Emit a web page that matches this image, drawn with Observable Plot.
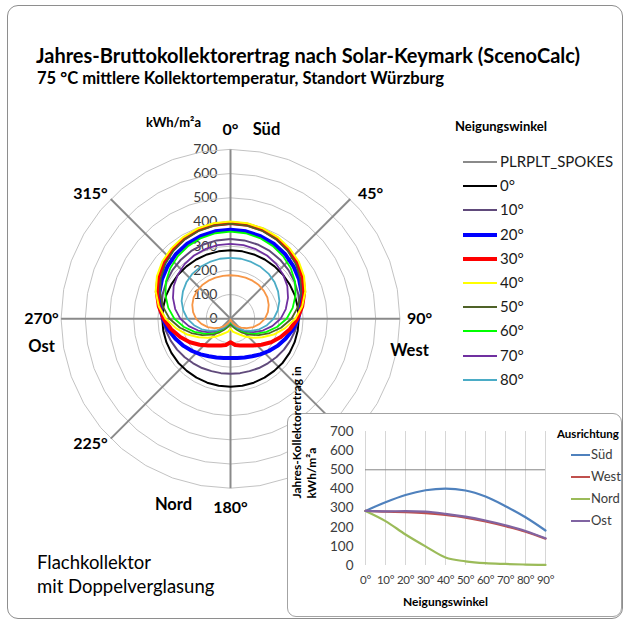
<!DOCTYPE html>
<html>
<head>
<meta charset="utf-8">
<script src="https://cdn.jsdelivr.net/npm/d3@7"></script>
<script src="https://cdn.jsdelivr.net/npm/@observablehq/plot@0.6"></script>
<style>
html, body { margin: 0; padding: 0; background: #fff; }
body { width: 629px; height: 627px; position: relative; overflow: hidden; font-family: Lato, "Open Sans", sans-serif; color: #000; }
.abs { position: absolute; white-space: nowrap; line-height: 1; }
</style>
</head>
<body>
<div class="abs" style="left:7px;top:5px;width:614px;height:612px;border:1.5px solid #8e8e8e;border-radius:11px;"></div>
<div id="polar" class="abs" style="left:0;top:0;"></div>
<div class="abs" style="left:36px;top:45px;font-size:20px;font-weight:bold;">Jahres-Bruttokollektorertrag nach Solar-Keymark (ScenoCalc)</div>
<div class="abs" style="left:37px;top:70px;font-size:16.6px;font-weight:bold;">75 °C mittlere Kollektortemperatur, Standort Würzburg</div>
<div class="abs" style="left:146px;top:116px;font-size:13px;font-weight:bold;">kWh/m²a</div>
<div class="abs" style="left:37px;top:553px;font-size:18.5px;">Flachkollektor</div>
<div class="abs" style="left:37px;top:577px;font-size:18.5px;">mit Doppelverglasung</div>
<div id="legend"></div>
<div class="abs" style="left:287px;top:413px;width:333px;height:202px;background:#fff;border:1px solid #a3a3a3;border-radius:9px;"></div>
<div id="inset" class="abs" style="left:287px;top:413px;"></div>
<div id="insetLegend"></div>
<script>
// ---------- polar chart data ----------
const azimuths = [0,10,20,30,40,50,60,70,80,90,100,110,120,130,140,150,160,170,180,190,200,210,220,230,240,250,260,270,280,290,300,310,320,330,340,350];
const seriesNames = ["0°","10°","20°","30°","40°","50°","60°","70°","80°","90°"];
const tilt0  = [283,283,283,283,283,283,283,283,282,282,282,282,282,282,281,281,281,281,281,281,281,281,281,282,282,282,282,282,282,283,283,283,283,283,283,283];
const tilt10 = [330,329,327,324,319,313,306,298,290,281,272,263,255,247,240,235,230,228,227,228,230,235,240,247,255,263,272,281,290,298,306,313,319,324,327,329];
const tilt20 = [368,367,363,358,350,339,327,313,297,279,261,242,224,207,192,179,170,164,162,164,170,179,192,207,224,242,261,279,297,313,327,339,350,358,363,367];
const tilt30 = [396,395,391,383,373,360,344,324,301,276,249,221,194,167,144,127,117,110,97,110,117,127,144,167,194,221,249,276,301,324,344,360,373,383,391,395];
const tilt40 = [402,401,397,390,380,368,351,329,301,268,228,190,152,122,97,75,62,54,40,54,62,75,97,122,152,190,228,268,301,329,351,368,380,390,397,401];
const tilt50 = [392,391,386,379,367,352,333,310,283,252,212,172,135,102,75,52,37,28,22,28,37,52,75,102,135,172,212,252,283,310,333,352,367,379,386,391];
const tilt60 = [360,359,355,348,338,325,308,286,261,232,195,158,122,90,63,42,27,17,12,17,27,42,63,90,122,158,195,232,261,286,308,325,338,348,355,359];
const tilt70 = [310,309,306,302,295,284,271,253,232,207,175,142,110,80,55,35,20,11,8,11,20,35,55,80,110,142,175,207,232,253,271,284,295,302,306,309];
const tilt80 = [252,252,250,248,244,237,227,215,198,178,153,127,100,74,51,32,18,9,5,9,18,32,51,74,100,127,153,178,198,215,227,237,244,248,250,252];
const tilt90 = [180,180,181,182,182,180,176,168,157,142,122,100,78,57,39,24,12,5,3,5,12,24,39,57,78,100,122,142,157,168,176,180,182,182,181,180];
const ringLevels = [0,100,200,300,400,500,600,700];
const spokeAngles = [0,45,90,135,180,225,270,315];
const angleTicks = [0,45,90,180,225,270,315];
const directionNames = ["Süd","West","Nord","Ost"];
const directionAngles = [0,90,180,270];
const spokeName = "PLRPLT_SPOKES";

// ---------- inset chart data ----------
const insetTilts = [0,10,20,30,40,50,60,70,80,90];
const insetNames = ["Süd","West","Nord","Ost"];
const sued = [285,330,368,393,402,392,360,310,252,183];
const west = [285,281,279,274,264,250,230,205,176,140];
const nord = [285,232,162,100,42,22,12,8,5,3];
const ost  = [285,283,284,281,270,255,235,210,180,142];
const insetYTicks = [0,100,200,300,400,500,600,700];

// ---------- styles ----------
const seriesValues = [tilt0,tilt10,tilt20,tilt30,tilt40,tilt50,tilt60,tilt70,tilt80,tilt90];
const seriesColors = ["#000000","#604A7B","#0000FF","#FF0000","#FFFF00","#4F6228","#00FF00","#7030A0","#4BACC6","#F79646"];
const seriesWidths = [2,2,4,4,2,1.8,1.8,1.8,1.8,1.8];
const legendWidths = [2,2,4,4,2,2,2,2,2,2];
const spokeColor = "#8a8a8a";
const insetValues = [sued, west, nord, ost];
const insetColors = ["#4F81BD","#C0504D","#9BBB59","#8064A2"];

// ---------- polar geometry (pixel layout) ----------
const W = 629, H = 627, CX = 230, CY = 318.3, K = 0.242; // px per kWh/m²a
const u = p => p / K;
const rad = a => a * Math.PI / 180;
const px = (r, a) => r * Math.sin(rad(a));
const py = (r, a) => r * Math.cos(rad(a));
const dirOffsets = [[36,0],[-10,32],[-57,-3],[0,28]];
const labelR = a => (a % 90 === 0 ? [189, 189] : [198, 177]);

const ringPts = ringLevels.filter(r => r > 0).flatMap(r => azimuths.map(a => ({r, a})));

const polar = Plot.plot({
  width: W, height: H, margin: 0,
  style: {background: "transparent", overflow: "visible", fontFamily: "Lato, 'Open Sans', sans-serif"},
  x: {domain: [-CX / K, (W - CX) / K], axis: null},
  y: {domain: [-(H - CY) / K, CY / K], axis: null},
  marks: [
    Plot.text(ringLevels, {x: () => 0, y: d => d, text: d => String(d), textAnchor: "end", dx: -13, fontSize: 14, fill: "#3c3c3c"}),
    Plot.line(ringPts, {x: d => px(d.r, d.a), y: d => py(d.r, d.a), z: "r", curve: "linear-closed", stroke: "#c3c3c3", strokeWidth: 1}),
    Plot.link(spokeAngles, {x1: () => 0, y1: () => 0, x2: a => px(700, a), y2: a => py(700, a), stroke: spokeColor, strokeWidth: 2}),
    ...seriesValues.map((vals, i) => Plot.line(azimuths, {
      x: (a, j) => px(vals[j], a), y: (a, j) => py(vals[j], a),
      curve: "linear-closed", stroke: seriesColors[i], strokeWidth: seriesWidths[i], strokeLinejoin: "round"
    })),
    Plot.text(angleTicks, {
      x: a => px(u(labelR(a)[0]), a), y: a => py(u(labelR(a)[1]), a),
      text: a => `${a}°`, fontSize: 16, fontWeight: "bold", fill: "#000"
    }),
    Plot.text(directionNames, {
      x: (d, i) => px(u(189), directionAngles[i]) + u(dirOffsets[i][0]),
      y: (d, i) => py(u(189), directionAngles[i]) - u(dirOffsets[i][1]),
      text: d => d, fontSize: 16.5, fontWeight: "bold", fill: "#000"
    })
  ]
});
document.getElementById("polar").appendChild(polar);

// ---------- polar legend ----------
(function () {
  const box = document.getElementById("legend");
  const title = document.createElement("div");
  title.className = "abs";
  title.style.cssText = "left:455px;top:120px;font-size:13px;font-weight:bold;";
  title.textContent = "Neigungswinkel";
  box.appendChild(title);
  const items = [{name: spokeName, color: spokeColor, width: 2}]
    .concat(seriesNames.slice(0, 9).map((n, i) => ({name: n, color: seriesColors[i], width: legendWidths[i]})));
  items.forEach((it, i) => {
    const y = Math.round(162 + i * 24.2);
    const line = document.createElement("div");
    line.className = "abs";
    line.style.cssText = `left:463px;top:${y - it.width / 2}px;width:34px;height:${it.width}px;background:${it.color};`;
    box.appendChild(line);
    const t = document.createElement("div");
    t.className = "abs";
    t.style.cssText = `left:500px;top:${y - 8}px;font-size:15px;color:#1a1a1a;`;
    t.textContent = it.name;
    box.appendChild(t);
  });
})();

// ---------- inset chart ----------
const inset = Plot.plot({
  width: 335, height: 204,
  marginLeft: 78, marginRight: 77, marginTop: 18, marginBottom: 52,
  style: {background: "transparent", overflow: "visible", fontFamily: "Lato, 'Open Sans', sans-serif", fontSize: "13.5px", color: "#3c3c3c"},
  x: {domain: [0, 90], ticks: insetTilts, tickFormat: d => `${d}°`, tickSize: 0, tickPadding: 10, label: null},
  y: {domain: [0, 700], ticks: insetYTicks, tickSize: 0, tickPadding: 12, label: null},
  marks: [
    Plot.ruleX(insetTilts, {stroke: "#d6d6d6", strokeWidth: 1}),
    Plot.ruleY([500], {stroke: "#868686", strokeWidth: 1}),
    ...insetValues.map((vals, i) => Plot.line(insetTilts, {
      x: d => d, y: (d, j) => vals[j], curve: "monotone-x", stroke: insetColors[i], strokeWidth: 2.2
    })),
    Plot.text(["Jahres-Kollektorertrag in\nkWh/m²a"], {frameAnchor: "left", dx: -62, rotate: -90, fontWeight: "bold", fontSize: 12, fill: "#000", lineHeight: 1.25}),
    Plot.text(["Neigungswinkel"], {frameAnchor: "bottom", dy: 40, dx: -10, fontWeight: "bold", fontSize: 12, fill: "#000"})
  ]
});
inset.querySelectorAll("g[aria-label='x-axis tick label'] text, g[aria-label='x-axis'] text").forEach(t => { t.style.fontSize = "11.5px"; t.style.letterSpacing = "-0.3px"; });
document.getElementById("inset").appendChild(inset);

// ---------- inset legend ----------
(function () {
  const box = document.getElementById("insetLegend");
  const title = document.createElement("div");
  title.className = "abs";
  title.style.cssText = "left:557px;top:428px;font-size:11.5px;font-weight:bold;";
  title.textContent = "Ausrichtung";
  box.appendChild(title);
  insetNames.forEach((n, i) => {
    const y = 455 + i * 22;
    const line = document.createElement("div");
    line.className = "abs";
    line.style.cssText = `left:571px;top:${y - 1}px;width:19px;height:2px;background:${insetColors[i]};`;
    box.appendChild(line);
    const t = document.createElement("div");
    t.className = "abs";
    t.style.cssText = `left:591px;top:${y - 7}px;font-size:13px;color:#3c3c3c;`;
    t.textContent = n;
    box.appendChild(t);
  });
})();
</script>
</body>
</html>
